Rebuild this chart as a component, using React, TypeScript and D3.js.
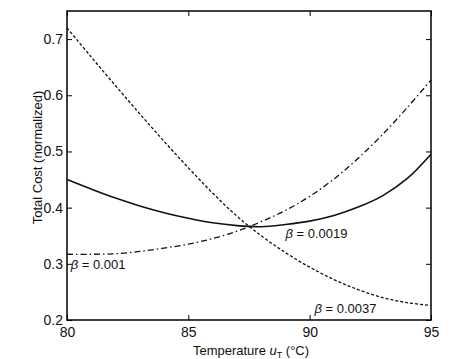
import { useEffect, useRef } from "react";
import * as d3 from "d3";

const temps = [80, 81, 82, 83, 84, 85, 86, 87, 88, 89, 90, 91, 92, 93, 94, 95];
const costLow = [0.317, 0.317, 0.318, 0.322, 0.328, 0.335, 0.345, 0.358, 0.375, 0.395, 0.42, 0.451, 0.488, 0.53, 0.577, 0.627];
const costMid = [0.45, 0.433, 0.417, 0.403, 0.391, 0.381, 0.373, 0.368, 0.366, 0.37, 0.376, 0.386, 0.401, 0.421, 0.451, 0.495];
const costHigh = [0.72, 0.668, 0.617, 0.567, 0.518, 0.471, 0.426, 0.385, 0.35, 0.32, 0.294, 0.272, 0.254, 0.24, 0.231, 0.226];
const xTicks = [80, 85, 90, 95];
const yTicks = [0.2, 0.3, 0.4, 0.5, 0.6, 0.7];

const App = () => {
  const ref = useRef<SVGSVGElement>(null);

  useEffect(() => {
    const margin = { top: 11, right: 43, bottom: 39, left: 67 };
    const width = 474 - margin.left - margin.right;
    const height = 359 - margin.top - margin.bottom;

    const root = d3.select(ref.current);
    root.selectAll("*").remove();

    const svg = root
      .append("g")
      .attr("transform", `translate(${margin.left}, ${margin.top})`)
      .style("font-family", "'Liberation Sans', Arial, sans-serif");

    const x = d3.scaleLinear().domain([80, 95]).range([0, width]);
    const y = d3.scaleLinear().domain([0.2, 0.75]).range([height, 0]);

    const tickLen = 5;
    const axisStyle = (g: any) => {
      g.select(".domain").remove();
      g.selectAll("line").attr("stroke", "#000").attr("stroke-width", 1);
      g.selectAll("text").attr("fill", "#111").style("font-size", "14px");
    };

    svg.append("g")
      .attr("transform", `translate(0, ${height})`)
      .call(d3.axisBottom(x).tickValues(xTicks).tickSizeInner(-tickLen).tickSizeOuter(0).tickPadding(7).tickFormat(d3.format("d")))
      .call(axisStyle);

    svg.append("g")
      .call(d3.axisTop(x).tickValues(xTicks).tickSizeInner(-tickLen).tickSizeOuter(0).tickFormat(() => ""))
      .call(axisStyle);

    svg.append("g")
      .call(d3.axisLeft(y).tickValues(yTicks).tickSizeInner(-tickLen).tickSizeOuter(0).tickPadding(4).tickFormat(d3.format(".1f")))
      .call(axisStyle);

    svg.append("g")
      .attr("transform", `translate(${width}, 0)`)
      .call(d3.axisRight(y).tickValues(yTicks).tickSizeInner(-tickLen).tickSizeOuter(0).tickFormat(() => ""))
      .call(axisStyle);

    svg.append("rect")
      .attr("width", width)
      .attr("height", height)
      .attr("fill", "none")
      .attr("stroke", "#000")
      .attr("stroke-width", 1.5);

    const line = d3.line<number>()
      .curve(d3.curveCatmullRom)
      .x((_, i) => x(temps[i]))
      .y((d) => y(d));

    const series = [
      { values: costMid, dash: null, w: 1.6 },
      { values: costLow, dash: "6,3,1.5,3", w: 1.3 },
      { values: costHigh, dash: "3,2", w: 1.3 },
    ];

    series.forEach((s) => {
      svg.append("path")
        .datum(s.values)
        .attr("fill", "none")
        .attr("stroke", "#111")
        .attr("stroke-width", s.w)
        .attr("stroke-dasharray", s.dash)
        .attr("d", line);
    });

    const labels = [
      { t: 89.0, v: 0.346, text: "0.0019" },
      { t: 80.15, v: 0.29, text: "0.001" },
      { t: 90.2, v: 0.212, text: "0.0037" },
    ];

    labels.forEach((l) => {
      const txt = svg.append("text")
        .attr("x", x(l.t))
        .attr("y", y(l.v))
        .attr("fill", "#111")
        .style("font-size", "13px");
      txt.append("tspan").style("font-style", "italic").text("β");
      txt.append("tspan").text(` = ${l.text}`);
    });

    const xl = svg.append("text")
      .attr("x", width / 2 + 2)
      .attr("y", height + 35)
      .attr("text-anchor", "middle")
      .attr("fill", "#111")
      .style("font-size", "13px");
    xl.append("tspan").text("Temperature ");
    xl.append("tspan").style("font-style", "italic").text("u");
    xl.append("tspan").attr("dy", 3).style("font-size", "9px").text("T");
    xl.append("tspan").attr("dy", -3).text(" (°C)");

    svg.append("text")
      .attr("transform", `translate(-25, ${height / 2 - 8}) rotate(-90)`)
      .attr("text-anchor", "middle")
      .attr("fill", "#111")
      .style("font-size", "13px")
      .text("Total Cost (normalized)");
  }, []);

  return (
    <div style={{ position: "absolute", left: 0, top: 0 }}>
      <svg ref={ref} width={474} height={359} style={{ background: "#fff", display: "block" }} />
    </div>
  );
};

export default App;
